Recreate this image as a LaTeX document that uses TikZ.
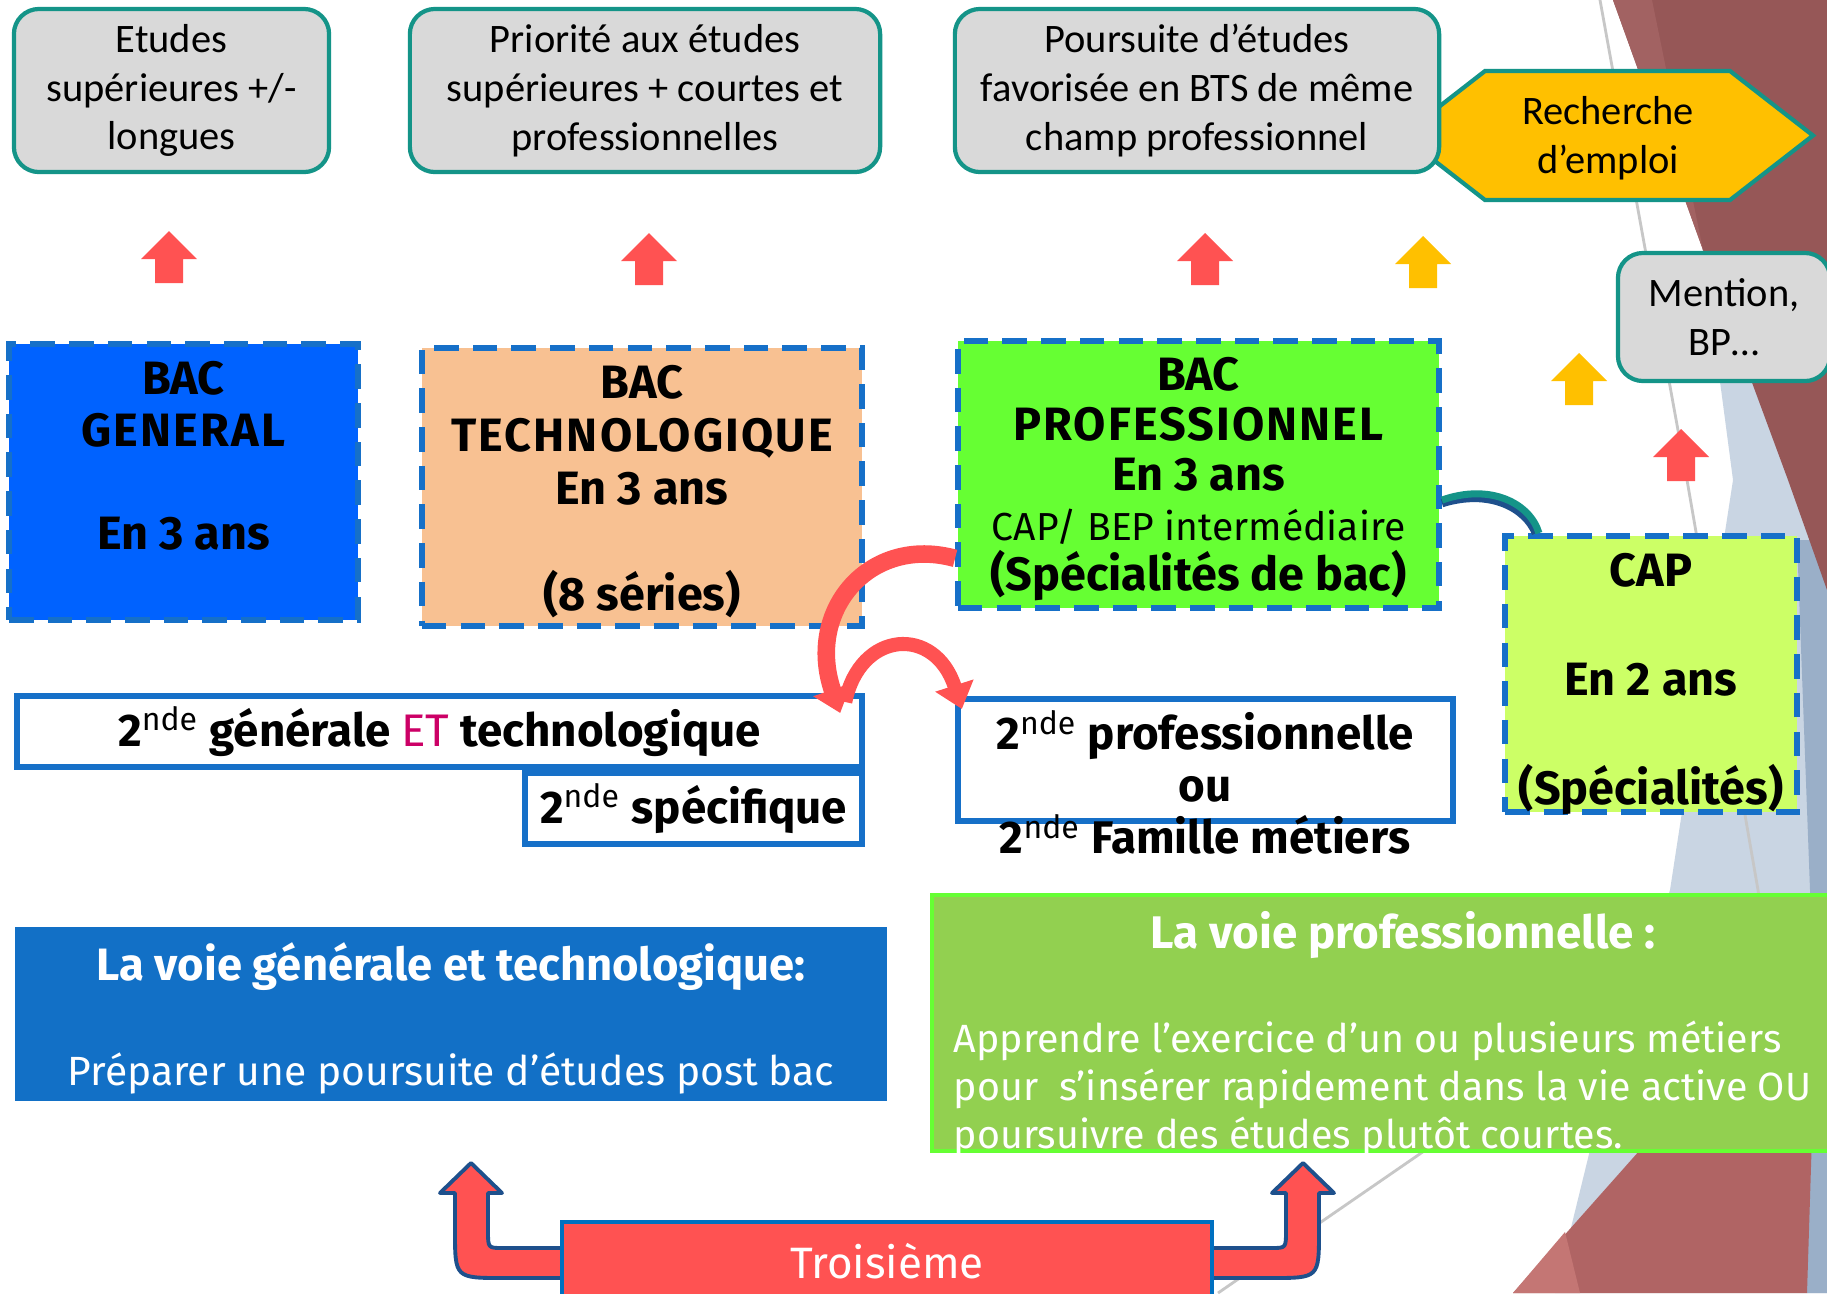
\documentclass[tikz,border=0pt]{standalone}
\usepackage{fontspec}
\setmainfont{Carlito}
\newfontfamily\comic{Fira Sans}
\usetikzlibrary{positioning,arrows.meta}
\definecolor{tealb}{RGB}{20,148,136}
\definecolor{boxgray}{RGB}{217,217,217}
\definecolor{gold}{RGB}{255,192,0}
\definecolor{arrred}{RGB}{255,82,82}
\definecolor{dashblue}{RGB}{22,112,200}
\definecolor{bacblue}{RGB}{0,98,255}
\definecolor{peach}{RGB}{248,193,146}
\definecolor{progreen}{RGB}{102,255,51}
\definecolor{capgreen}{RGB}{204,255,102}
\definecolor{voieblue}{RGB}{18,112,198}
\definecolor{voiegreen}{RGB}{146,208,80}
\definecolor{etpink}{RGB}{204,0,102}
\definecolor{navy}{RGB}{30,80,140}
\definecolor{troisblue}{RGB}{0,112,192}
\definecolor{maroon}{RGB}{150,87,87}
\definecolor{maroonl}{RGB}{162,98,98}
\definecolor{bgblue}{RGB}{201,213,227}
\definecolor{bgblueb}{RGB}{154,175,200}
\definecolor{bgred}{RGB}{176,100,100}
\definecolor{bgredl}{RGB}{196,118,116}
\newcommand{\spaced}[1]{{\addfontfeature{LetterSpace=4.5}#1}}
\newcommand{\nde}{\textsuperscript{\mdseries nde}}
\tikzset{
    topbox/.style = {rectangle,
                    rounded corners=0.25cm,
                    fill=boxgray,
                    draw=tealb,
                    text=black,
                    line width=1.2pt,
                    align=center,
                    inner sep=0pt,
                    minimum height=1.63cm,
                    font=\fontsize{11.5}{13.9}\selectfont},
    dashbox/.style = {rectangle,
                    draw=dashblue,
                    line width=1.6pt,
                    dash pattern=on 7pt off 4pt},
    bactext/.style = {align=center,
                    inner sep=0pt,
                    text=black,
                    execute at begin node=\strut,
                    execute at end node=\strut},
    seconde/.style = {rectangle,
                    fill=white,
                    draw=dashblue,
                    text=black,
                    line width=1.7pt,
                    align=center,
                    inner sep=0pt,
                    minimum height=0.71cm,
                    font=\comic\bfseries\fontsize{13}{14.8}\selectfont},
    voie/.style =   {rectangle,
                    text=white,
                    align=center,
                    inner sep=0pt,
                    font=\comic\fontsize{12.5}{14.8}\selectfont},
    bent/.style =   {fill=arrred,
                    draw=navy,
                    line width=1.1pt,
                    line join=round},
    curved/.style = {draw=arrred,
                    -{Triangle[length=7pt,width=11pt]}},
    bgline/.style = {draw=black!22,
                    line width=0.8pt},
    uparr/.pic =    {\path[pic actions] (0,0) -- (28,28) -- (14,28) -- (14,52)
                        -- (-14,52) -- (-14,28) -- (-28,28) -- cycle;}
}
\begin{document}
\begin{tikzpicture}[x=0.01cm, y=-0.01cm]
    \useasboundingbox (0,0) rectangle (1827,1293);
    \clip (0,0) rectangle (1827,1293);
    \fill[white] (0,0) rectangle (1827,1293);
    % background on the right
    \fill[bgblue] (1700,230) -- (1827,230) -- (1827,1293) -- (1555,1293) -- (1590,1150)
        -- (1670,890) -- (1733,480) -- cycle;
    \fill[bgblueb] (1797,540) -- (1827,540) -- (1827,1293) -- (1807,1293) -- (1810,890) -- cycle;
    \fill[maroon] (1613,0) -- (1827,0) -- (1827,590) -- (1788,480) -- (1703,250) -- cycle;
    \fill[maroonl] (1613,0) -- (1652,0) -- (1703,250) -- cycle;
    \fill[bgred] (1513,1293) -- (1640,1150) -- (1720,1040) -- (1815,1040) -- (1807,1293) -- cycle;
    \fill[bgredl] (1513,1293) -- (1565,1232) -- (1580,1293) -- cycle;
    \draw[bgline] (1600,0) -- (1687,480) -- (1758,890) -- (1790,1100);
    \draw[bgline] (1218,1293) -- (1440,1140);

    % top row
    \node[topbox, minimum width=3.15cm] (etudes) at (171.5,90.5)
        {Etudes\\supérieures +/-\\longues};
    \node[topbox, minimum width=4.70cm] (priorite) at (645,90.5)
        {Priorité aux études\\supérieures + courtes et\\professionnelles};
    \draw[fill=gold, draw=tealb, line width=1.2pt] (1402,135.5) -- (1485,71) -- (1730,71)
        -- (1813,135.5) -- (1730,200) -- (1485,200) -- cycle;
    \node[align=center, font=\fontsize{11.5}{13.9}\selectfont] (emploi) at (1608,138)
        {Recherche\\d’emploi};
    \node[topbox, minimum width=4.84cm] (poursuite) at (1197,90.5)
        {Poursuite d’études\\favorisée en BTS de même\\champ professionnel};
    \node[topbox, minimum width=2.12cm, minimum height=1.28cm] (mention) at (1724,317)
        {Mention,\\BP…};

    \pic[fill=arrred] at (169,231) {uparr};
    \pic[fill=arrred] at (649,233) {uparr};
    \pic[fill=arrred] at (1205,233) {uparr};
    \pic[fill=gold] at (1423,236) {uparr};
    \pic[fill=gold] at (1579,353) {uparr};
    \pic[fill=arrred] at (1681,429) {uparr};

    % the bacs
    \node[dashbox, fill=bacblue, minimum width=3.49cm, minimum height=2.76cm] (bacgen) at (183.5,482) {};
    \node[bactext, font=\comic\bfseries\fontsize{13.3}{14.7}\selectfont] (bacgentxt) at (183.5,463)
        {BAC\\\spaced{GENERAL}\\[14.7pt]En 3 ans};
    \node[dashbox, fill=peach, minimum width=4.40cm, minimum height=2.78cm] (bactech) at (642,487) {};
    \node[bactext, font=\comic\bfseries\fontsize{13.3}{15.1}\selectfont] (bactechtxt) at (642,496)
        {BAC\\\spaced{TECHNOLOGIQUE}\\En 3 ans\\[15.1pt](8 séries)};
    \node[dashbox, fill=progreen, minimum width=4.81cm, minimum height=2.67cm] (bacpro) at (1198.5,474.5) {};
    \node[bactext, font=\comic\bfseries\fontsize{13.3}{14.2}\selectfont] (bacprotxt) at (1198.5,481)
        {BAC\\\spaced{PROFESSIONNEL}\\En 3 ans\\{\mdseries\fontsize{11.1}{14.2}\selectfont CAP/ BEP intermédiaire}\\(Spécialités de bac)};
    \node[dashbox, fill=capgreen, minimum width=2.92cm, minimum height=2.76cm] (cap) at (1651,674) {};
    \node[bactext, font=\comic\bfseries\fontsize{13.3}{15.5}\selectfont] (captxt) at (1651,687)
        {CAP\\[15.5pt]En 2 ans\\[15.5pt](Spécialités)};

    % the secondes
    \node[seconde, minimum width=8.45cm] (secgt) at (439.5,731.5)
        {2\nde{} générale {\mdseries\color{etpink}ET} technologique};
    \node[seconde, minimum width=3.37cm, anchor=north east] (secspe) at (secgt.south east)
        {2\nde{} spécifique};
    \node[seconde, minimum width=4.95cm, minimum height=1.22cm] (secpro) at (1205.5,760) {};
    \node[bactext, font=\comic\bfseries\fontsize{13}{14.8}\selectfont] (secprotxt) at (1205,790)
        {2\nde{} professionnelle\\ou\\2\nde{} Famille métiers};

    \draw[curved, line width=5pt] (bacpro.199) .. controls (870,535) and (805,610)
        .. ([xshift=-0.25cm,yshift=-0.2cm]secgt.north east);
    \draw[curved, line width=4pt] ([xshift=-0.2cm,yshift=-0.09cm]secgt.north east)
        .. controls (860,630) and (935,625) .. ([xshift=0.07cm,yshift=-0.13cm]secpro.north west);
    \draw[navy, line width=2.4pt] ([yshift=-0.03cm]bacpro.-6) .. controls (1490,488) and (1526,508)
        .. ([xshift=-1.15cm]cap.north);
    \draw[tealb, line width=2pt] (bacpro.-6) .. controls (1490,483) and (1530,503)
        .. ([xshift=-1.12cm]cap.north);

    % the two ways
    \node[voie, fill=voieblue, minimum width=8.72cm, minimum height=1.74cm] (voiegt) at (451,1014) {};
    \node[bactext, text=white, font=\comic\fontsize{11.6}{14.9}\selectfont] (voiegttxt) at (451,1022)
        {{\bfseries\fontsize{12.9}{14.9}\selectfont La voie générale et technologique:}\\[14.9pt]Préparer une poursuite d’études post bac};
    \node[voie, fill=voiegreen, draw=progreen, line width=1pt, minimum width=8.98cm,
        minimum height=2.56cm] (voiepro) at (1381,1023) {};
    \node[voie, font=\comic\bfseries\fontsize{13}{14.8}\selectfont] (voieprotitre) at (1403,935)
        {La voie professionnelle :};
    \node[voie, align=left, anchor=west, font=\comic\fontsize{11.2}{13.7}\selectfont] (voieprotxt)
        at (953,1089) {Apprendre l’exercice d’un ou plusieurs métiers\\pour\ \ s’insérer rapidement
        dans la vie active OU\\poursuivre des études plutôt courtes.};

    % troisieme
    \draw[bent] (575,1248) -- (503,1248) .. controls (488,1248) .. (488,1231) -- (488,1193)
        -- (502,1193) -- (471,1163) -- (440,1193) -- (455,1193) -- (455,1231)
        .. controls (455,1278) .. (503,1278) -- (575,1278) -- cycle;
    \draw[bent] (1199,1248) -- (1271,1248) .. controls (1286,1248) .. (1286,1231) -- (1286,1193)
        -- (1272,1193) -- (1303,1163) -- (1334,1193) -- (1319,1193) -- (1319,1231)
        .. controls (1319,1278) .. (1271,1278) -- (1199,1278) -- cycle;
    \node[voie, fill=arrred, draw=troisblue, line width=1.2pt, minimum width=6.50cm,
        minimum height=0.88cm, text depth=0.1cm] (trois) at (887,1266) {Troisième};
\end{tikzpicture}
\end{document}
